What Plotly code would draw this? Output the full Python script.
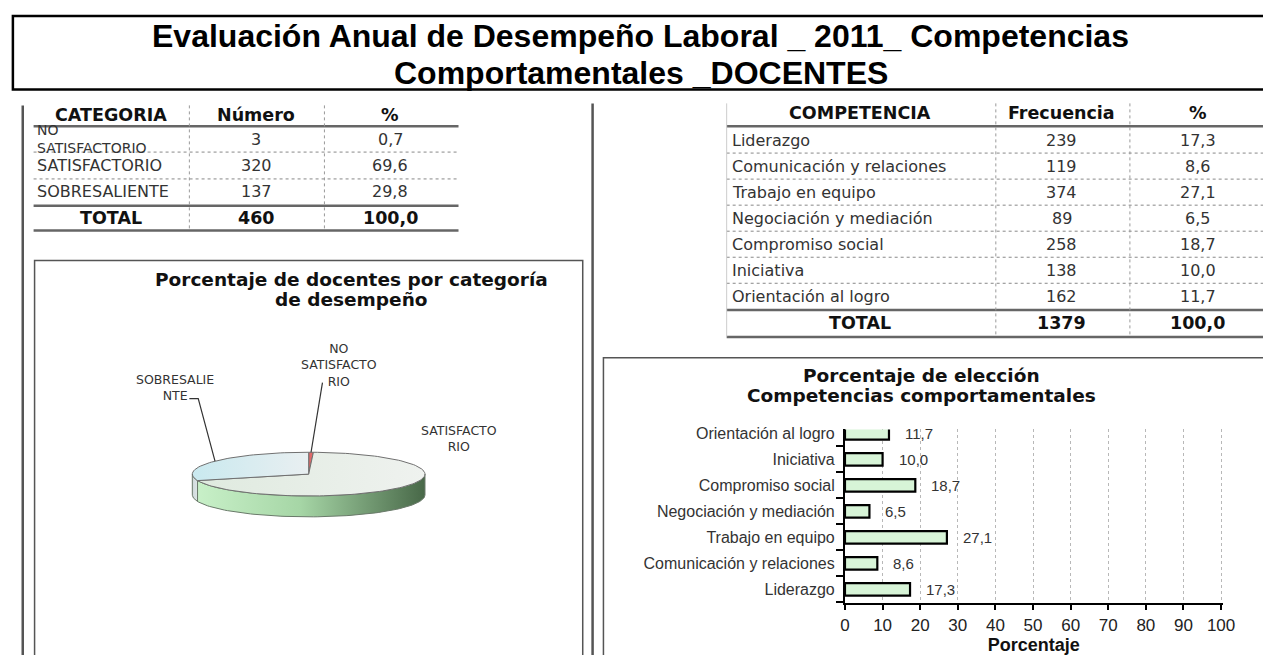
import math
import plotly.graph_objects as go

# ---------------- data ----------------
main_title_1 = "Evaluación Anual de Desempeño Laboral _ 2011_ Competencias"
main_title_2 = "Comportamentales _DOCENTES"

cat_header = ["CATEGORIA", "Número", "%"]
cat_labels = ["NO SATISFACTORIO", "SATISFACTORIO", "SOBRESALIENTE"]
cat_numbers = [3, 320, 137]
cat_pct = [0.7, 69.6, 29.8]
cat_total_number = 460
cat_total_pct = 100.0

comp_header = ["COMPETENCIA", "Frecuencia", "%"]
comp_labels = ["Liderazgo", "Comunicación y relaciones", "Trabajo en equipo",
               "Negociación y mediación", "Compromiso social", "Iniciativa",
               "Orientación al logro"]
comp_freq = [239, 119, 374, 89, 258, 138, 162]
comp_pct = [17.3, 8.6, 27.1, 6.5, 18.7, 10.0, 11.7]
comp_total_freq = 1379
comp_total_pct = 100.0

pie_title_lines = ["Porcentaje de docentes por categoría", "de desempeño"]
bar_title_lines = ["Porcentaje de elección", "Competencias comportamentales"]
bar_xaxis_title = "Porcentaje"
bar_ticks = [0, 10, 20, 30, 40, 50, 60, 70, 80, 90, 100]

# ---------------- styling ----------------
W, H = 1276, 655
VERD = "DejaVu Sans"
ARIAL = "Liberation Sans, Arial"
HEAD_SIZE = 17.5
BODY_SIZE = 16


def fmt(v):
    return f"{v:.1f}".replace(".", ",")


fig = go.Figure()


def txt(x, y, text, size, bold=False, family=VERD, color="#111", xanchor="center"):
    fig.add_annotation(x=x, y=y, xref="x", yref="y",
                       text=f"<b>{text}</b>" if bold else text,
                       showarrow=False, xanchor=xanchor, yanchor="middle",
                       align="left" if xanchor == "left" else "center",
                       font=dict(family=family, size=size, color=color))


def hline(x0, x1, y, width=1, color="#777", dash="solid"):
    fig.add_shape(type="line", xref="x", yref="y", x0=x0, x1=x1, y0=y, y1=y,
                  line=dict(color=color, width=width, dash=dash))


def vline(x, y0, y1, width=1, color="#777", dash="solid"):
    fig.add_shape(type="line", xref="x", yref="y", x0=x, x1=x, y0=y0, y1=y1,
                  line=dict(color=color, width=width, dash=dash))


# ---------------- main title box ----------------
fig.add_shape(type="rect", xref="x", yref="y", x0=8, y0=12, x1=W + 5, y1=86,
              line=dict(color="#000", width=2.5))
txt(645, 32, main_title_1, 32, bold=True, family=ARIAL, color="#000")
txt(645, 69, main_title_2, 32, bold=True, family=ARIAL, color="#000")

# page vertical lines
vline(18, 102, H + 5, width=2.5, color="#555")
vline(596, 100, H + 5, width=2.5, color="#555")

# ---------------- left table ----------------
LX0, LX1 = 29, 460
lcols = [108, 255, 391]
for c, h in zip(lcols, cat_header):
    txt(c, 112, h, HEAD_SIZE, bold=True, color="#111")
row_y = [136, 162, 189]
for i, (lab, n, p) in enumerate(zip(cat_labels, cat_numbers, cat_pct)):
    y = row_y[i]
    if len(lab) > 14:
        txt(30, y, lab.replace(" ", "<br>"), 14, xanchor="left", color="#333")
    else:
        txt(30, y, lab, BODY_SIZE, xanchor="left", color="#333")
    txt(lcols[1], y, str(n), BODY_SIZE, color="#333")
    txt(lcols[2], y, fmt(p), BODY_SIZE, color="#333")
txt(lcols[0], 215, "TOTAL", HEAD_SIZE, bold=True)
txt(lcols[1], 215, str(cat_total_number), HEAD_SIZE, bold=True)
txt(lcols[2], 215, fmt(cat_total_pct), HEAD_SIZE, bold=True)
hline(LX0, LX1, 123, width=2.5, color="#666")
hline(LX0, LX1, 149, width=1, color="#888", dash="dot")
hline(LX0, LX1, 176, width=1, color="#888", dash="dot")
hline(LX0, LX1, 203, width=2.5, color="#666")
hline(LX0, LX1, 228, width=2.5, color="#666")
for xs in (187, 324):
    vline(xs, 102, 228, width=1, color="#999", dash="dot")

# ---------------- right table ----------------
RX0, RX1 = 732, W + 5
rcols = [867, 1072, 1210]
for c, h in zip(rcols, comp_header):
    txt(c, 110, h, HEAD_SIZE, bold=True)
RH = 26.2
for i, (lab, f, p) in enumerate(zip(comp_labels, comp_freq, comp_pct)):
    y = 137 + RH * i
    txt(735, y, lab, BODY_SIZE, xanchor="left", color="#333")
    txt(rcols[1], y, str(f), BODY_SIZE, color="#333")
    txt(rcols[2], y, fmt(p), BODY_SIZE, color="#333")
    if i < len(comp_labels) - 1:
        hline(RX0, RX1, 150 + RH * i, width=1, color="#888", dash="dot")
txt(rcols[0], 321, "TOTAL", HEAD_SIZE, bold=True)
txt(rcols[1], 321, str(comp_total_freq), HEAD_SIZE, bold=True)
txt(rcols[2], 321, fmt(comp_total_pct), HEAD_SIZE, bold=True)
hline(RX0, RX1, 123, width=2.5, color="#666")
hline(RX0, RX1, 308, width=2.5, color="#666")
hline(RX0, RX1, 335, width=2.5, color="#666")
vline(RX0, 100, 335, width=1, color="#ccc")
for xs in (1005, 1141):
    vline(xs, 100, 335, width=1, color="#999", dash="dot")

# ---------------- pie panel ----------------
fig.add_shape(type="rect", xref="x", yref="y", x0=30, y0=258, x1=586, y1=H + 10,
              line=dict(color="#555", width=1.5))
txt(351, 277, pie_title_lines[0], 18.5, bold=True, color="#111")
txt(351, 297, pie_title_lines[1], 18.5, bold=True, color="#111")

CX, CY, RX, RY, DEPTH = 308, 473, 118, 22, 21
total = sum(cat_numbers)
top_colors = ["#e06a6a", "#e8eee8", "#d6edf1"]
top_grad = [None,
            [[0, "#dfeadf"], [1, "#eff2ef"]],
            [[0, "#c9e9ef"], [1, "#e9eff1"]]]
side_grad = [[[0, "#d08080"], [1, "#b05050"]],
             [[0, "#c8f0c8"], [0.45, "#a6d6a6"], [1, "#486848"]],
             [[0, "#cfd9db"], [1, "#dde5e6"]]]


def ept(theta_deg, dy=0.0):
    t = math.radians(theta_deg)
    return CX + RX * math.cos(t), CY - RY * math.sin(t) + dy


start = 90.0
slices = []
for v in cat_numbers:
    sweep = 360.0 * v / total
    slices.append((start, start - sweep))  # clockwise
    start -= sweep

# side walls (front half: angles between -180 and 0)
for i, (a0, a1) in enumerate(slices):
    lo, hi = max(a1, -180.0), min(a0, 0.0)
    if hi <= lo:
        continue
    n = 80
    angs = [lo + (hi - lo) * k / n for k in range(n + 1)]
    upper = [ept(a) for a in angs]
    lower = [ept(a, DEPTH) for a in reversed(angs)]
    pts = upper + lower + [upper[0]]
    fig.add_trace(go.Scatter(
        x=[p[0] for p in pts], y=[p[1] for p in pts], mode="lines", fill="toself",
        fillgradient=dict(type="horizontal", colorscale=side_grad[i]),
        line=dict(color="#6a7a6a", width=1), hoverinfo="skip", showlegend=False,
        xaxis="x", yaxis="y"))

# top faces
for i, (a0, a1) in enumerate(slices):
    n = max(4, int(abs(a0 - a1) / 2))
    angs = [a0 + (a1 - a0) * k / n for k in range(n + 1)]
    pts = [(CX, CY)] + [ept(a) for a in angs] + [(CX, CY)]
    kw = dict(fillcolor=top_colors[i]) if top_grad[i] is None else \
        dict(fillgradient=dict(type="horizontal", colorscale=top_grad[i]))
    fig.add_trace(go.Scatter(
        x=[p[0] for p in pts], y=[p[1] for p in pts], mode="lines", fill="toself",
        line=dict(color="#707070", width=1), hoverinfo="skip", showlegend=False,
        xaxis="x", yaxis="y", **kw))


def wrap10(label):
    lines = []
    for w in label.split(" "):
        lines += [w[k:k + 10] for k in range(0, len(w), 10)]
    return lines


# pie labels (label centre positions) and leader lines to slice mid-angles
label_pos = {"NO SATISFACTORIO": (339, 363), "SATISFACTORIO": (460, 437),
             "SOBRESALIENTE": (172, 386)}
leader_from = {"NO SATISFACTORIO": [(322, 381)],
               "SOBRESALIENTE": [(187, 397), (196, 397)]}
for lab, (a0, a1) in zip(cat_labels, slices):
    lx, ly = label_pos[lab]
    txt(lx, ly, "<br>".join(wrap10(lab)), 12.5, color="#333")
    if lab in leader_from:
        mx, my = ept((a0 + a1) / 2.0)
        pts = leader_from[lab] + [(mx, my)]
        fig.add_trace(go.Scatter(x=[p[0] for p in pts], y=[p[1] for p in pts],
                                 mode="lines", line=dict(color="#333", width=1.2),
                                 hoverinfo="skip", showlegend=False,
                                 xaxis="x", yaxis="y"))

# ---------------- bar panel ----------------
fig.add_shape(type="rect", xref="x", yref="y", x0=607, y0=356, x1=W + 10, y1=H + 10,
              line=dict(color="#555", width=1.5))
txt(930, 374, bar_title_lines[0], 18.5, bold=True, color="#111")
txt(930, 394, bar_title_lines[1], 18.5, bold=True, color="#111")

fig.add_trace(go.Bar(
    x=comp_pct, y=comp_labels, orientation="h", width=0.48,
    marker=dict(color="#d7f4d7", line=dict(color="#000", width=2.2)),
    hoverinfo="skip", showlegend=False, xaxis="x2", yaxis="y2"))
for lab, p in zip(comp_labels, comp_pct):
    fig.add_annotation(x=p, y=lab, xref="x2", yref="y2", text=fmt(p),
                       showarrow=False, xanchor="left", yanchor="middle", xshift=14,
                       font=dict(family=ARIAL, size=15, color="#333"))

AX0, AX1 = 852, 1235
AY_TOP, AY_BOT = 428, 603

fig.update_layout(
    width=W, height=H, margin=dict(l=0, r=0, t=0, b=0),
    paper_bgcolor="white", plot_bgcolor="rgba(0,0,0,0)",
    xaxis=dict(range=[0, W], domain=[0, 1], visible=False, fixedrange=True),
    yaxis=dict(range=[H, 0], domain=[0, 1], visible=False, fixedrange=True),
    xaxis2=dict(domain=[AX0 / W, AX1 / W], anchor="y2", range=[0, 100.4],
                tickvals=bar_ticks, showline=True, linecolor="#000", linewidth=2,
                ticks="outside", ticklen=5, tickwidth=1.5, tickcolor="#000",
                showgrid=True, gridcolor="#b8b8b8", griddash="dot", gridwidth=1,
                zeroline=False,
                tickfont=dict(family=ARIAL, size=17, color="#222"),
                title=dict(text=f"<b>{bar_xaxis_title}</b>", standoff=6,
                           font=dict(family=ARIAL, size=18, color="#111"))),
    yaxis2=dict(domain=[1 - AY_BOT / H, 1 - AY_TOP / H], anchor="x2",
                type="category", categoryorder="array", categoryarray=comp_labels,
                range=[-0.535, 6.153], showline=True, linecolor="#000", linewidth=2,
                ticks="outside", ticklen=7, tickwidth=1.5, tickcolor="#000",
                tickson="boundaries", showgrid=False, ticklabelstandoff=5,
                tickfont=dict(family=ARIAL, size=16, color="#333")),
    bargap=0.5,
)

fig.write_html("out.html")
